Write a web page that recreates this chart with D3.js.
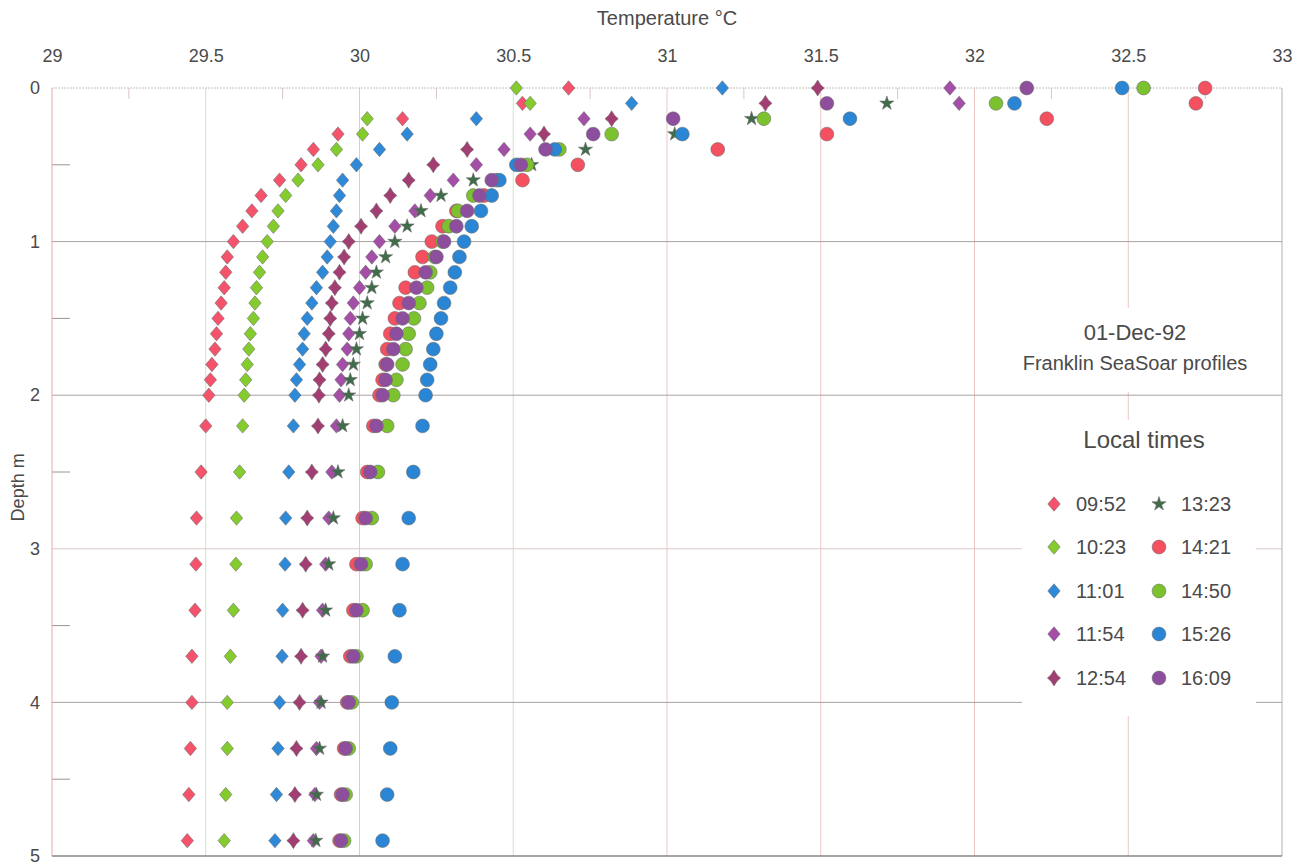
<!DOCTYPE html>
<html>
<head>
<meta charset="utf-8">
<script src="https://cdn.jsdelivr.net/npm/d3@7"></script>
<style>
  body { margin: 0; background: #fff; }
  svg { display: block; font-family: "Liberation Sans", Arial, sans-serif; }
</style>
</head>
<body>
<svg width="1306" height="865"></svg>
<script>
// depth levels (m)
const depths = [0, 0.1, 0.2, 0.3, 0.4, 0.5, 0.6, 0.7, 0.8, 0.9, 1.0, 1.1, 1.2, 1.3, 1.4, 1.5, 1.6, 1.7, 1.8, 1.9, 2.0,
  2.2, 2.5, 2.8, 3.1, 3.4, 3.7, 4.0, 4.3, 4.6, 4.9];

// temperatures (deg C) per profile, one value per depth
const t0952 = [30.68, 30.53, 30.14, 29.93, 29.85, 29.81, 29.74, 29.68, 29.65, 29.62, 29.59, 29.57, 29.565, 29.56, 29.55, 29.54, 29.535, 29.53, 29.52, 29.515, 29.51,
  29.50, 29.485, 29.47, 29.468, 29.465, 29.455, 29.455, 29.45, 29.445, 29.44];
const t1023 = [30.51, 30.555, 30.025, 30.01, 29.925, 29.865, 29.80, 29.76, 29.735, 29.72, 29.70, 29.685, 29.675, 29.665, 29.66, 29.655, 29.645, 29.64, 29.635, 29.63, 29.625,
  29.62, 29.61, 29.60, 29.598, 29.59, 29.58, 29.57, 29.57, 29.565, 29.56];
const t1101 = [31.18, 30.885, 30.38, 30.155, 30.065, 29.99, 29.945, 29.935, 29.925, 29.915, 29.905, 29.895, 29.88, 29.86, 29.845, 29.83, 29.82, 29.815, 29.805, 29.795, 29.79,
  29.785, 29.77, 29.76, 29.758, 29.75, 29.748, 29.74, 29.735, 29.73, 29.725];
const t1154 = [31.92, 31.95, 30.73, 30.555, 30.47, 30.38, 30.305, 30.23, 30.18, 30.115, 30.065, 30.04, 30.02, 30.0, 29.98, 29.97, 29.965, 29.96, 29.945, 29.94, 29.935,
  29.925, 29.91, 29.90, 29.89, 29.88, 29.875, 29.87, 29.86, 29.855, 29.85];
const t1254 = [31.49, 31.32, 30.82, 30.60, 30.35, 30.24, 30.16, 30.10, 30.055, 30.005, 29.965, 29.95, 29.935, 29.92, 29.91, 29.905, 29.90, 29.89, 29.88, 29.87, 29.868,
  29.865, 29.845, 29.83, 29.825, 29.815, 29.81, 29.805, 29.795, 29.79, 29.785];
const t1323 = [null, 31.715, 31.275, 31.025, 30.735, 30.56, 30.37, 30.265, 30.20, 30.155, 30.115, 30.085, 30.055, 30.04, 30.025, 30.01, 30.0, 29.99, 29.98, 29.97, 29.965,
  29.945, 29.93, 29.915, 29.90, 29.89, 29.88, 29.875, 29.87, 29.86, 29.858];
const t1421 = [32.75, 32.72, 32.235, 31.52, 31.165, 30.71, 30.53, 30.405, 30.315, 30.27, 30.235, 30.205, 30.18, 30.15, 30.13, 30.115, 30.10, 30.09, 30.085, 30.075, 30.065,
  30.045, 30.025, 30.01, 29.99, 29.98, 29.97, 29.96, 29.95, 29.94, 29.935];
const t1450 = [32.55, 32.07, 31.315, 30.82, 30.65, 30.545, 30.445, 30.37, 30.32, 30.29, 30.27, 30.245, 30.23, 30.22, 30.195, 30.177, 30.16, 30.15, 30.14, 30.12, 30.11,
  30.09, 30.06, 30.04, 30.02, 30.01, 29.99, 29.975, 29.965, 29.955, 29.95];
const t1526 = [32.48, 32.13, 31.595, 31.05, 30.635, 30.51, 30.455, 30.43, 30.395, 30.365, 30.34, 30.325, 30.31, 30.295, 30.275, 30.265, 30.25, 30.24, 30.23, 30.22, 30.215,
  30.205, 30.175, 30.16, 30.14, 30.13, 30.115, 30.105, 30.10, 30.09, 30.075];
const t1609 = [32.17, 31.52, 31.02, 30.76, 30.605, 30.525, 30.43, 30.39, 30.35, 30.315, 30.275, 30.25, 30.215, 30.185, 30.16, 30.14, 30.12, 30.11, 30.09, 30.085, 30.075,
  30.055, 30.035, 30.02, 30.005, 29.99, 29.98, 29.965, 29.955, 29.945, 29.94];

const times = ['09:52', '10:23', '11:01', '11:54', '12:54', '13:23', '14:21', '14:50', '15:26', '16:09'];
const temps = [t0952, t1023, t1101, t1154, t1254, t1323, t1421, t1450, t1526, t1609];
const shapes = ['diamond', 'diamond', 'diamond', 'diamond', 'star4', 'star', 'circle', 'circle', 'circle', 'circle'];
const colors = ['#f4536b', '#84cc2e', '#2e8ad8', '#a54ea8', '#a33e72', '#3f6c49', '#f4505f', '#7cc22e', '#2a86d4', '#8e4e9e'];

const xTicks = [29, 29.5, 30, 30.5, 31, 31.5, 32, 32.5, 33];
const yTicks = [0, 1, 2, 3, 4, 5];

const margin = {top: 88, right: 24, bottom: 9, left: 52};
const width = 1306 - margin.left - margin.right;
const height = 865 - margin.top - margin.bottom;

const svg = d3.select('svg');
const chart = svg.append('g')
  .attr('transform', `translate(${margin.left}, ${margin.top})`);

const xScale = d3.scaleLinear().domain([29, 33]).range([0, width]);
const yScale = d3.scaleLinear().domain([0, 5]).range([0, height]);

// marker paths
function markerPath(shape) {
  if (shape === 'diamond') return 'M0,-7.2L6.2,0L0,7.2L-6.2,0Z';
  if (shape === 'star4') return 'M0,-8Q2.6,-2.6 6.6,0Q2.6,2.6 0,8Q-2.6,2.6 -6.6,0Q-2.6,-2.6 0,-8Z';
  if (shape === 'star') return d3.symbol(d3.symbolStar, 62)();
  return d3.symbol(d3.symbolCircle, 150)();
}

// gridlines
chart.append('g').selectAll('line')
  .data(xTicks.slice(1, -1))
  .join('line')
  .attr('x1', d => xScale(d)).attr('x2', d => xScale(d))
  .attr('y1', 0).attr('y2', height)
  .attr('stroke', d => (d === 29.5 || d === 30.5) ? '#cfe3c4' : '#ecc6c6')
  .attr('stroke-width', 1);

chart.append('g').selectAll('line')
  .data(yTicks.slice(1, -1))
  .join('line')
  .attr('x1', 0).attr('x2', width)
  .attr('y1', d => yScale(d)).attr('y2', d => yScale(d))
  .attr('stroke', d => d === 3 ? '#dcc8c8' : '#a8a2a2')
  .attr('stroke-width', 1);

// minor ticks
chart.append('g').selectAll('line')
  .data(d3.range(29.25, 33, 0.5))
  .join('line')
  .attr('x1', d => xScale(d)).attr('x2', d => xScale(d))
  .attr('y1', 0).attr('y2', 11)
  .attr('stroke', '#d8c4c4');

chart.append('g').selectAll('line')
  .data(d3.range(0.5, 5, 1))
  .join('line')
  .attr('x1', 0).attr('x2', 18)
  .attr('y1', d => yScale(d)).attr('y2', d => yScale(d))
  .attr('stroke', '#9a9494');

// frame
chart.append('line').attr('x1', 0).attr('x2', width).attr('y1', 0).attr('y2', 0)
  .attr('stroke', '#c8c0c0').attr('stroke-dasharray', '2,1');
chart.append('line').attr('x1', 0).attr('x2', 0).attr('y1', 0).attr('y2', height)
  .attr('stroke', '#e2a8a8');
chart.append('line').attr('x1', width).attr('x2', width).attr('y1', 0).attr('y2', height)
  .attr('stroke', '#b4b0b0');
chart.append('line').attr('x1', 0).attr('x2', width).attr('y1', height).attr('y2', height)
  .attr('stroke', '#8a8686').attr('stroke-width', 1.5);

// axes (labels only)
const xAxis = chart.append('g')
  .call(d3.axisTop(xScale).tickValues(xTicks).tickSize(0).tickPadding(26).tickFormat(d => d));
const yAxis = chart.append('g')
  .call(d3.axisLeft(yScale).tickValues(yTicks).tickSize(0).tickPadding(12).tickFormat(d => d));
[xAxis, yAxis].forEach(a => {
  a.select('.domain').remove();
  a.selectAll('text').attr('font-size', 18).attr('fill', '#4a4a4a')
    .attr('font-family', '"Liberation Sans", Arial, sans-serif');
});

svg.append('text')
  .attr('x', margin.left + xScale(31)).attr('y', 25)
  .attr('text-anchor', 'middle').attr('font-size', 20).attr('fill', '#4a4a4a')
  .text('Temperature °C');

svg.append('text')
  .attr('transform', `translate(24, ${margin.top + yScale(2.6)}) rotate(-90)`)
  .attr('text-anchor', 'middle').attr('font-size', 18).attr('fill', '#4a4a4a')
  .text('Depth m');

// data points, first profile at the bottom
temps.forEach((vals, i) => {
  const pts = depths.map((d, j) => ({d: d, t: vals[j]})).filter(p => p.t !== null);
  chart.append('g').selectAll('path')
    .data(pts)
    .join('path')
    .attr('transform', p => `translate(${xScale(p.t)}, ${yScale(p.d)})`)
    .attr('d', markerPath(shapes[i]))
    .attr('fill', colors[i])
    .attr('stroke', '#6a6a6a').attr('stroke-width', 0.7).attr('stroke-opacity', 0.8);
});

// title block
svg.append('rect').attr('x', 1004).attr('y', 308).attr('width', 268).attr('height', 84).attr('fill', '#fff');
svg.append('text').attr('x', 1135).attr('y', 340)
  .attr('text-anchor', 'middle').attr('font-size', 22).attr('fill', '#4a4a4a')
  .text('01-Dec-92');
svg.append('text').attr('x', 1135).attr('y', 370)
  .attr('text-anchor', 'middle').attr('font-size', 20).attr('fill', '#4a4a4a')
  .text('Franklin SeaSoar profiles');

// legend
const legend = svg.append('g');
legend.append('rect').attr('x', 1022).attr('y', 420).attr('width', 234).attr('height', 296).attr('fill', '#fff');
legend.append('text').attr('x', 1144).attr('y', 448)
  .attr('text-anchor', 'middle').attr('font-size', 24).attr('fill', '#4a4a4a')
  .text('Local times');

const legendRows = [504, 547, 591, 634, 678];
times.forEach((name, i) => {
  const col = Math.floor(i / 5);
  const row = i % 5;
  const lx = col === 0 ? 1054 : 1159;
  const ly = legendRows[row];
  legend.append('path')
    .attr('transform', `translate(${lx}, ${ly})`)
    .attr('d', markerPath(shapes[i]))
    .attr('fill', colors[i])
    .attr('stroke', '#6a6a6a').attr('stroke-width', 0.7).attr('stroke-opacity', 0.8);
  legend.append('text')
    .attr('x', lx + 22).attr('y', ly + 7)
    .attr('font-size', 20).attr('fill', '#4a4a4a')
    .text(name);
});
</script>
</body>
</html>
